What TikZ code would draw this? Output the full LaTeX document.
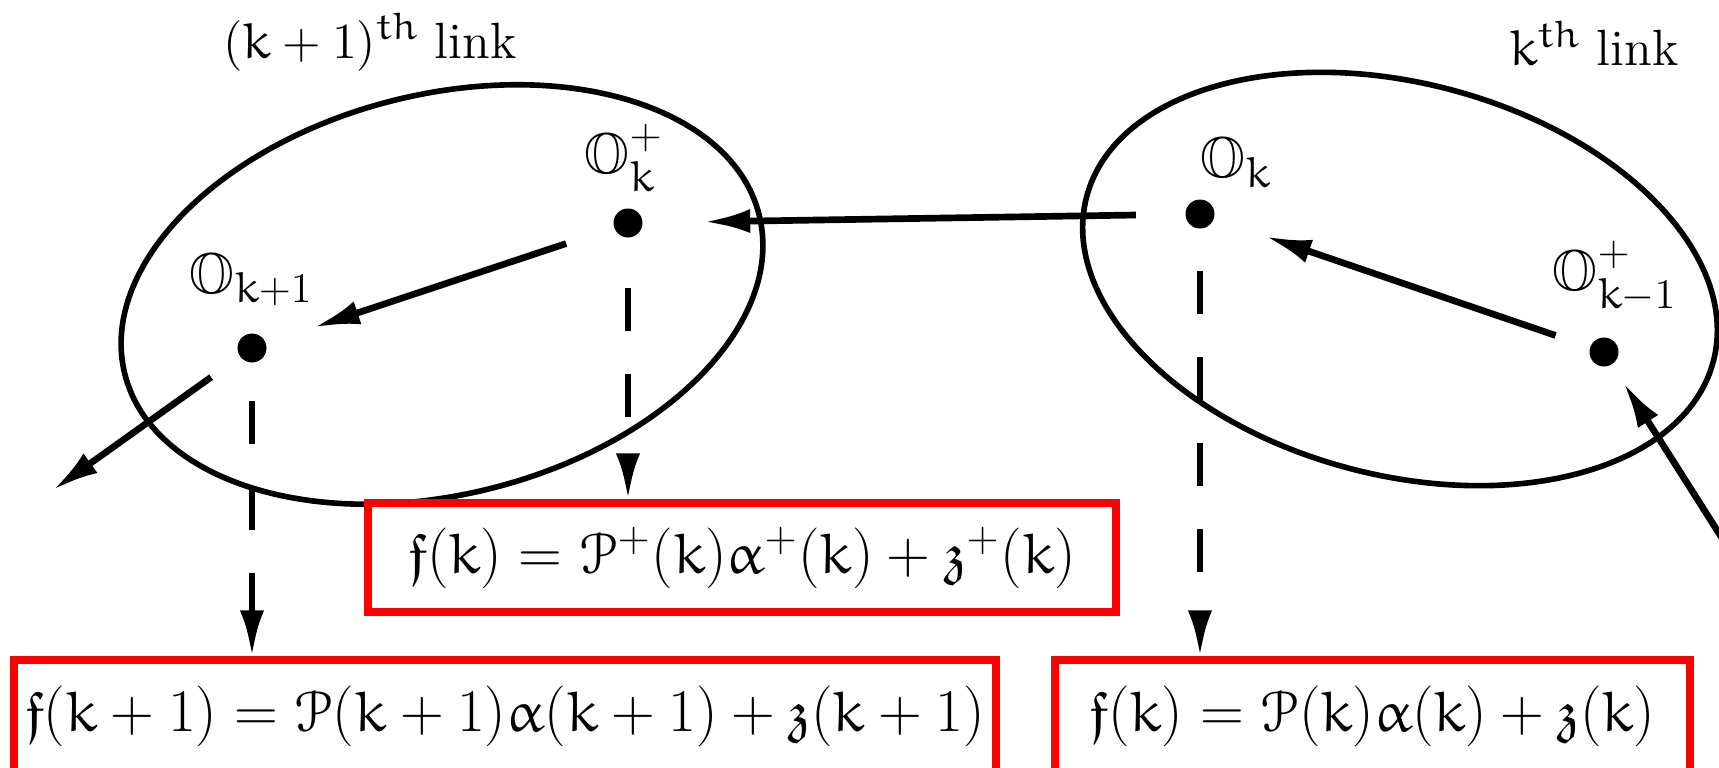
\documentclass[tikz,border=0pt]{standalone}
\usepackage{amssymb}
\usetikzlibrary{arrows.meta}
% Euler letters (from amsfonts) for the upright k, t, h and alpha
\DeclareSymbolFont{eul}{U}{eur}{m}{n}
\DeclareMathSymbol{k}{\mathalpha}{eul}{`k}
\DeclareMathSymbol{t}{\mathalpha}{eul}{`t}
\DeclareMathSymbol{h}{\mathalpha}{eul}{`h}
\DeclareMathSymbol{\ealpha}{\mathord}{eul}{"0B}
\DeclareMathAlphabet{\escr}{U}{eus}{m}{n}
\def\defaultscriptratio{.76}

\begin{document}
\begin{tikzpicture}[>={Latex[length=4.6mm,width=2.4mm]}, font=\fontsize{16.4}{19}\selectfont,
  dot/.style={circle, fill, inner sep=0pt, minimum size=2.9mm},
  link/.style={line width=1.6pt},
  flow/.style={->, line width=1.9pt},
  proj/.style={->, line width=1.9pt, dash pattern=on 4.3mm off 4.3mm},
  lbl/.style={anchor=base west, inner sep=0pt},
  eqbox/.style={draw=red, line width=2pt, inner sep=0pt, minimum height=10.9mm}]
  \useasboundingbox (0,0) rectangle (17.19,7.67);

  % the two links
  \draw[link] (4.42,4.725) ellipse [x radius=3.27, y radius=2.0, rotate=14.1];
  \draw[link] (14.00,4.88) ellipse [x radius=3.24, y radius=1.96, rotate=-14.7];

  \node[dot] (Okp) at (6.28,5.44) {};
  \node[dot] (Kone) at (2.52,4.19) {};
  \node[dot] (Ok) at (12.00,5.53) {};
  \node[dot] (Okm) at (16.04,4.15) {};

  \node[lbl] (lOkp) at (5.84,5.94) {$\mathbb{O}_k^+$};
  \node[lbl] (lKone) at (1.89,4.74) {$\mathbb{O}_{k+1}$};
  \node[lbl] (lOk) at (12.00,5.89) {$\mathbb{O}_k$};
  \node[lbl] (lOkm) at (15.52,4.77) {$\mathbb{O}_{k-1}^+$};

  \node[font=\fontsize{14.5}{17}\selectfont] (tl) at (3.70,7.25) {$(k+1)^{th}$ link};
  \node[font=\fontsize{14.5}{17}\selectfont] (tr) at (15.94,7.24) {$k^{th}$ link};

  % equations
  \node[eqbox, minimum width=74.8mm] (fa) at (7.42,2.095)
    {$\mathfrak{f}(k) = \escr{P}^+(k)\ealpha^+(k) + \mathfrak{z}^+(k)$};
  \node[eqbox, minimum width=98.2mm, minimum height=11.2mm] (fb) at (5.05,0.51)
    {$\mathfrak{f}(k+1) = \escr{P}(k+1)\ealpha(k+1) + \mathfrak{z}(k+1)$};
  \node[eqbox, minimum width=63.5mm, minimum height=11.2mm] (fc) at (13.725,0.51)
    {$\mathfrak{f}(k) = \escr{P}(k)\ealpha(k) + \mathfrak{z}(k)$};

  \coordinate (out) at (0.53,2.77);
  \coordinate (in) at (17.60,1.69);

  \draw[flow, shorten <=4.9mm, shorten >=6.1mm] (Ok) -- (Okp);
  \draw[flow, shorten <=5mm, shorten >=5mm] (Okp) -- (Kone);
  \draw[flow, shorten <=3.5mm] (Kone) -- (out);
  \draw[flow, shorten <=3.6mm, shorten >=5.4mm] (Okm) -- (Ok);
  \draw[flow, shorten >=2.1mm] (in) -- (Okm);

  \draw[proj, shorten <=5mm] (Okp) -- (Okp |- fa.north);
  \draw[proj, shorten <=3.8mm] (Kone) -- (Kone |- fb.north);
  \draw[proj, shorten <=4.2mm] (Ok) -- (Ok |- fc.north);
\end{tikzpicture}
\end{document}
